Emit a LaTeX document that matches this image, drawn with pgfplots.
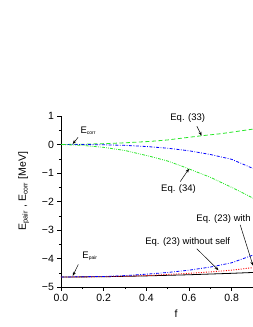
\documentclass[border=0pt]{standalone}
\usepackage{pgfplots}
\pgfplotsset{compat=1.18}
\usepackage{fontspec}
\setmainfont{Liberation Sans}
\usetikzlibrary{arrows.meta}
\begin{document}
\begin{tikzpicture}[x=1pt,y=1pt]
\useasboundingbox (-61,-40) rectangle (192,287);
\begin{axis}[
  at={(0,0)}, anchor=south west,
  scale only axis, width=192pt, height=171pt,
  xmin=0, xmax=0.9, ymin=-5, ymax=1,
  axis lines=left, axis line style={-, line width=0.6pt},
  xtick={0,0.2,0.4,0.6,0.8}, ytick={-5,-4,-3,-2,-1,0,1},
  yticklabels={−5,−4,−3,−2,−1,0,1},
  minor x tick num=1, minor y tick num=1,
  tick align=outside, tick style={black, line width=0.5pt},
  major tick length=3.5pt, minor tick length=2pt,
  xticklabel style={/pgf/number format/.cd, fixed, fixed zerofill, precision=1},
  /pgf/number format/assume math mode=true,
  ticklabel style={font=\fontsize{10.5}{12}\selectfont},
  xlabel={f}, ylabel={E\textsubscript{pair} , E\textsubscript{\scriptsize corr} [MeV]},
  xlabel style={font=\fontsize{10.5}{12}\selectfont, at={(ticklabel cs:0.6)}, yshift=-2pt},
  ylabel style={font=\fontsize{10.5}{12}\selectfont, at={(ticklabel cs:0.56)}, yshift=6pt},
  clip=false,
]
% Eq. (33) green dashed
\addplot[color={rgb,255:red,40;green,230;blue,40}, line width=0.8pt, dash pattern=on 4pt off 2.5pt] coordinates {
(0,0) (0.1,0.01) (0.2,0.03) (0.3,0.06) (0.42,0.11) (0.5,0.16) (0.65,0.3) (0.75,0.38) (0.9,0.54)};
% blue dash-dot
\addplot[color=blue, line width=0.8pt, dash pattern=on 3pt off 1.5pt on 0.8pt off 1.5pt] coordinates {
(0,0) (0.1,0) (0.2,-0.01) (0.3,-0.03) (0.4,-0.07) (0.5,-0.13) (0.6,-0.22) (0.7,-0.35) (0.8,-0.52) (0.9,-0.84)};
% Eq. (34) green dash-dot-dot
\addplot[color={rgb,255:red,40;green,230;blue,40}, line width=0.8pt, dash pattern=on 3pt off 1.2pt on 0.8pt off 1.2pt on 0.8pt off 1.2pt] coordinates {
(0,0) (0.1,-0.03) (0.2,-0.1) (0.3,-0.21) (0.42,-0.42) (0.5,-0.58) (0.57,-0.77) (0.7,-1.15) (0.81,-1.54) (0.9,-1.88)};
% E_pair black solid
\addplot[color=black, line width=0.8pt] coordinates {
(0,-4.65) (0.2,-4.64) (0.4,-4.61) (0.6,-4.57) (0.8,-4.52) (0.9,-4.49)};
% without self red dotted
\addplot[color=red, line width=0.9pt, dash pattern=on 1pt off 1.5pt] coordinates {
(0,-4.65) (0.2,-4.64) (0.4,-4.6) (0.5,-4.56) (0.6,-4.52) (0.7,-4.47) (0.8,-4.41) (0.9,-4.32)};
% with self blue dash-dot
\addplot[color=blue, line width=0.8pt, dash pattern=on 3pt off 1.5pt on 0.8pt off 1.5pt] coordinates {
(0,-4.65) (0.2,-4.63) (0.3,-4.6) (0.4,-4.55) (0.5,-4.49) (0.6,-4.41) (0.7,-4.3) (0.8,-4.15) (0.9,-3.88)};
% annotations
\begin{scope}[font=\fontsize{9.5}{11}\selectfont]
\node at (axis cs:0.128,0.49) {E\textsubscript{\tiny corr}};
\draw[-{Stealth[length=4pt,width=3pt]}, line width=0.5pt] (axis cs:0.08,0.25) -- (axis cs:0.055,0.02);
\node at (axis cs:0.594,0.94) {Eq. (33)};
\draw[-{Stealth[length=4pt,width=3pt]}, line width=0.5pt] (axis cs:0.637,0.64) -- (axis cs:0.659,0.31);
\node at (axis cs:0.551,-1.57) {Eq. (34)};
\draw[-{Stealth[length=4pt,width=3pt]}, line width=0.5pt] (axis cs:0.559,-1.3) -- (axis cs:0.60,-0.85);
\node at (axis cs:0.136,-3.93) {E\textsubscript{\tiny pair}};
\draw[-{Stealth[length=4pt,width=3pt]}, line width=0.5pt] (axis cs:0.081,-4.21) -- (axis cs:0.055,-4.61);
\node at (axis cs:0.594,-3.42) {Eq. (23) without self};
\draw[-{Stealth[length=4pt,width=3pt]}, line width=0.5pt] (axis cs:0.637,-3.66) -- (axis cs:0.738,-4.41);
\node[anchor=west, inner sep=0pt] at (axis cs:0.634,-2.61) {Eq. (23) with};
\draw[-{Stealth[length=4pt,width=3pt]}, line width=0.5pt] (axis cs:0.84,-2.82) -- (axis cs:0.9,-4.25);
\end{scope}
\end{axis}
\end{tikzpicture}
\end{document}
